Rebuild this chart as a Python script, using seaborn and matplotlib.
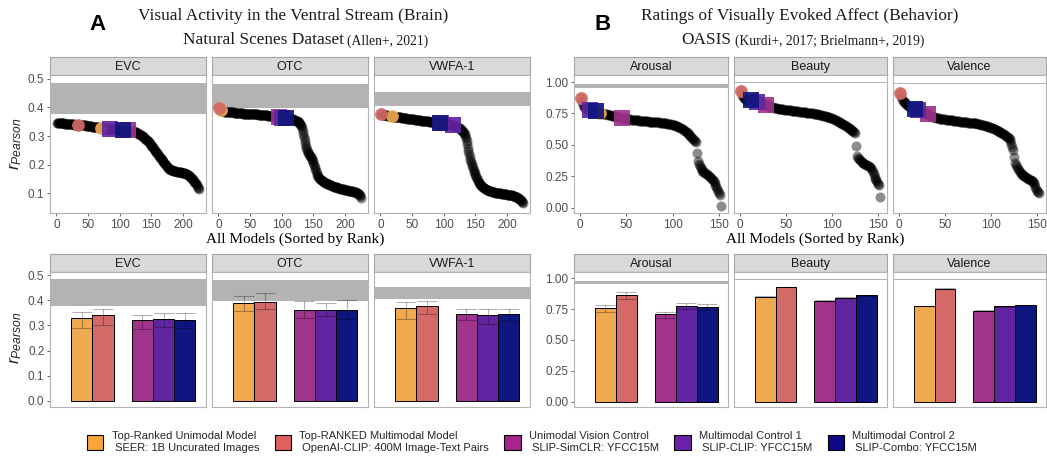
import numpy as np
import matplotlib
matplotlib.use("Agg")  # headless
import matplotlib.pyplot as plt
from matplotlib.patches import Patch
from matplotlib.ticker import FormatStrFormatter
import seaborn as sns

# ── Models (order: SEER, OpenAI-CLIP, SLIP-SimCLR, SLIP-CLIP, SLIP-Combo) ──
LEGEND_LABELS = [
    "Top-Ranked Unimodal Model\n SEER: 1B Uncurated Images",
    "Top-RANKED Multimodal Model\n OpenAI-CLIP: 400M Image-Text Pairs",
    "Unimodal Vision Control\n SLIP-SimCLR: YFCC15M",
    "Multimodal Control 1\n SLIP-CLIP: YFCC15M",
    "Multimodal Control 2\n SLIP-Combo: YFCC15M",
]
BAR_COLORS = ["#EFA94F", "#D46A67", "#A0338B", "#6125A1", "#10167F"]
KEY_COLORS = ["#F9A53A", "#E0605E", "#A7238D", "#6A23A8", "#0D0887"]
MARKERS = ["o", "o", "s", "s", "s"]

BRAIN_REGIONS = ["EVC", "OTC", "VWFA-1"]
AFFECT_DIMS = ["Arousal", "Beauty", "Valence"]

# ── Sorted model scores (r_Pearson) per panel ────────────────────────────
EVC_SCORES = [
    0.347, 0.347, 0.346, 0.346, 0.346, 0.345, 0.345, 0.345, 0.344, 0.344, 0.344, 0.344, 0.343, 0.343, 0.343,
    0.343, 0.342, 0.342, 0.342, 0.342, 0.342, 0.341, 0.341, 0.341, 0.341, 0.341, 0.341, 0.340, 0.340, 0.340,
    0.340, 0.340, 0.340, 0.340, 0.339, 0.339, 0.339, 0.339, 0.338, 0.338, 0.338, 0.338, 0.337, 0.337, 0.337,
    0.337, 0.336, 0.336, 0.336, 0.336, 0.335, 0.335, 0.334, 0.334, 0.334, 0.333, 0.333, 0.333, 0.332, 0.332,
    0.332, 0.331, 0.331, 0.331, 0.330, 0.330, 0.330, 0.329, 0.329, 0.329, 0.328, 0.328, 0.328, 0.327, 0.327,
    0.327, 0.327, 0.326, 0.326, 0.326, 0.326, 0.325, 0.325, 0.325, 0.325, 0.325, 0.324, 0.324, 0.324, 0.324,
    0.324, 0.323, 0.323, 0.323, 0.323, 0.323, 0.323, 0.322, 0.322, 0.322, 0.322, 0.322, 0.322, 0.322, 0.321,
    0.321, 0.321, 0.321, 0.321, 0.320, 0.320, 0.320, 0.320, 0.319, 0.319, 0.319, 0.318, 0.318, 0.317, 0.317,
    0.317, 0.316, 0.315, 0.314, 0.313, 0.312, 0.311, 0.310, 0.309, 0.307, 0.306, 0.305, 0.303, 0.302, 0.300,
    0.299, 0.297, 0.295, 0.293, 0.291, 0.289, 0.287, 0.285, 0.283, 0.281, 0.279, 0.276, 0.273, 0.270, 0.267,
    0.264, 0.261, 0.258, 0.255, 0.252, 0.249, 0.246, 0.243, 0.240, 0.237, 0.234, 0.231, 0.228, 0.225, 0.222,
    0.219, 0.216, 0.213, 0.210, 0.207, 0.204, 0.201, 0.198, 0.195, 0.192, 0.190, 0.188, 0.186, 0.184, 0.183,
    0.182, 0.181, 0.180, 0.179, 0.179, 0.178, 0.178, 0.177, 0.177, 0.176, 0.176, 0.176, 0.175, 0.175, 0.175,
    0.174, 0.174, 0.173, 0.173, 0.172, 0.172, 0.171, 0.170, 0.169, 0.168, 0.167, 0.166, 0.165, 0.163, 0.161,
    0.159, 0.157, 0.155, 0.152, 0.150, 0.147, 0.144, 0.141, 0.138, 0.135, 0.132, 0.128, 0.124, 0.120, 0.116,
]
OTC_SCORES = [
    0.397, 0.393, 0.391, 0.389, 0.388, 0.387, 0.387, 0.386, 0.386, 0.385, 0.385, 0.385, 0.384, 0.384, 0.384,
    0.384, 0.383, 0.383, 0.383, 0.383, 0.382, 0.382, 0.382, 0.382, 0.381, 0.381, 0.381, 0.381, 0.380, 0.380,
    0.380, 0.380, 0.380, 0.379, 0.379, 0.379, 0.379, 0.379, 0.378, 0.378, 0.378, 0.378, 0.378, 0.378, 0.377,
    0.377, 0.377, 0.377, 0.377, 0.377, 0.376, 0.376, 0.376, 0.376, 0.376, 0.376, 0.375, 0.375, 0.375, 0.375,
    0.375, 0.375, 0.374, 0.374, 0.374, 0.374, 0.374, 0.373, 0.373, 0.373, 0.373, 0.373, 0.372, 0.372, 0.372,
    0.372, 0.372, 0.371, 0.371, 0.371, 0.371, 0.370, 0.370, 0.370, 0.369, 0.369, 0.369, 0.368, 0.368, 0.367,
    0.367, 0.367, 0.366, 0.366, 0.366, 0.365, 0.365, 0.365, 0.364, 0.364, 0.364, 0.363, 0.363, 0.363, 0.362,
    0.362, 0.362, 0.362, 0.361, 0.361, 0.361, 0.360, 0.360, 0.360, 0.359, 0.359, 0.358, 0.358, 0.357, 0.356,
    0.355, 0.354, 0.353, 0.352, 0.351, 0.350, 0.348, 0.346, 0.343, 0.339, 0.334, 0.327, 0.318, 0.307, 0.296,
    0.285, 0.275, 0.266, 0.258, 0.251, 0.245, 0.240, 0.236, 0.232, 0.229, 0.226, 0.222, 0.218, 0.213, 0.207,
    0.200, 0.192, 0.184, 0.177, 0.171, 0.166, 0.162, 0.158, 0.155, 0.152, 0.150, 0.148, 0.146, 0.144, 0.142,
    0.141, 0.139, 0.138, 0.137, 0.136, 0.135, 0.134, 0.133, 0.132, 0.131, 0.130, 0.129, 0.128, 0.127, 0.126,
    0.125, 0.124, 0.124, 0.123, 0.122, 0.121, 0.121, 0.120, 0.119, 0.118, 0.118, 0.117, 0.116, 0.116, 0.115,
    0.115, 0.114, 0.114, 0.113, 0.113, 0.112, 0.112, 0.111, 0.111, 0.110, 0.110, 0.109, 0.109, 0.108, 0.108,
    0.107, 0.107, 0.106, 0.106, 0.105, 0.104, 0.104, 0.103, 0.102, 0.101, 0.099, 0.097, 0.094, 0.090, 0.085,
]
VWFA_SCORES = [
    0.378, 0.376, 0.375, 0.374, 0.374, 0.373, 0.373, 0.372, 0.372, 0.372, 0.371, 0.371, 0.371, 0.370, 0.370,
    0.370, 0.370, 0.369, 0.369, 0.369, 0.368, 0.368, 0.368, 0.367, 0.367, 0.367, 0.366, 0.366, 0.366, 0.365,
    0.365, 0.365, 0.364, 0.364, 0.364, 0.363, 0.363, 0.363, 0.362, 0.362, 0.362, 0.361, 0.361, 0.361, 0.360,
    0.360, 0.360, 0.359, 0.359, 0.359, 0.358, 0.358, 0.358, 0.357, 0.357, 0.357, 0.356, 0.356, 0.356, 0.355,
    0.355, 0.355, 0.355, 0.354, 0.354, 0.354, 0.353, 0.353, 0.353, 0.352, 0.352, 0.352, 0.351, 0.351, 0.351,
    0.351, 0.350, 0.350, 0.350, 0.349, 0.349, 0.349, 0.349, 0.348, 0.348, 0.348, 0.348, 0.347, 0.347, 0.347,
    0.347, 0.346, 0.346, 0.346, 0.345, 0.345, 0.345, 0.344, 0.344, 0.344, 0.343, 0.343, 0.343, 0.342, 0.342,
    0.342, 0.341, 0.341, 0.341, 0.340, 0.340, 0.339, 0.339, 0.338, 0.337, 0.336, 0.335, 0.334, 0.333, 0.332,
    0.331, 0.330, 0.329, 0.328, 0.327, 0.325, 0.323, 0.321, 0.319, 0.317, 0.314, 0.311, 0.307, 0.301, 0.293,
    0.283, 0.272, 0.260, 0.248, 0.236, 0.226, 0.218, 0.210, 0.203, 0.196, 0.189, 0.182, 0.176, 0.170, 0.164,
    0.159, 0.154, 0.149, 0.145, 0.141, 0.137, 0.134, 0.131, 0.128, 0.126, 0.124, 0.122, 0.120, 0.118, 0.117,
    0.115, 0.114, 0.113, 0.112, 0.111, 0.110, 0.109, 0.108, 0.107, 0.107, 0.106, 0.105, 0.105, 0.104, 0.104,
    0.103, 0.103, 0.102, 0.102, 0.101, 0.101, 0.101, 0.100, 0.100, 0.100, 0.099, 0.099, 0.099, 0.098, 0.098,
    0.098, 0.097, 0.097, 0.097, 0.096, 0.096, 0.096, 0.095, 0.095, 0.094, 0.094, 0.093, 0.093, 0.092, 0.092,
    0.091, 0.090, 0.089, 0.088, 0.087, 0.086, 0.085, 0.083, 0.082, 0.080, 0.078, 0.076, 0.073, 0.070, 0.067,
]
AROUSAL_SCORES = [
    0.870, 0.840, 0.820, 0.805, 0.795, 0.790, 0.786, 0.783, 0.780, 0.778, 0.776, 0.774, 0.772, 0.770, 0.769,
    0.768, 0.766, 0.764, 0.762, 0.760, 0.757, 0.755, 0.753, 0.751, 0.749, 0.747, 0.745, 0.743, 0.742, 0.740,
    0.738, 0.737, 0.735, 0.733, 0.731, 0.730, 0.728, 0.727, 0.725, 0.724, 0.722, 0.720, 0.719, 0.717, 0.715,
    0.714, 0.712, 0.711, 0.709, 0.708, 0.706, 0.705, 0.703, 0.702, 0.701, 0.700, 0.699, 0.698, 0.697, 0.696,
    0.695, 0.695, 0.694, 0.693, 0.692, 0.692, 0.691, 0.690, 0.690, 0.689, 0.688, 0.688, 0.687, 0.686, 0.686,
    0.685, 0.684, 0.684, 0.683, 0.682, 0.682, 0.681, 0.680, 0.680, 0.679, 0.678, 0.677, 0.676, 0.675, 0.674,
    0.673, 0.672, 0.671, 0.670, 0.668, 0.667, 0.665, 0.664, 0.662, 0.660, 0.658, 0.656, 0.653, 0.650, 0.647,
    0.644, 0.640, 0.636, 0.632, 0.628, 0.623, 0.618, 0.612, 0.606, 0.600, 0.593, 0.586, 0.578, 0.570, 0.561,
    0.552, 0.544, 0.537, 0.530, 0.522, 0.432, 0.372, 0.350, 0.332, 0.318, 0.305, 0.296, 0.288, 0.282, 0.276,
    0.270, 0.265, 0.260, 0.254, 0.248, 0.240, 0.232, 0.222, 0.211, 0.198, 0.184, 0.168, 0.152, 0.136, 0.120,
    0.104, 0.010,
]
BEAUTY_SCORES = [
    0.928, 0.900, 0.882, 0.872, 0.866, 0.862, 0.860, 0.858, 0.857, 0.856, 0.855, 0.854, 0.852, 0.850, 0.848,
    0.846, 0.844, 0.842, 0.840, 0.838, 0.836, 0.834, 0.832, 0.830, 0.828, 0.826, 0.824, 0.821, 0.818, 0.815,
    0.812, 0.809, 0.806, 0.803, 0.800, 0.798, 0.796, 0.794, 0.792, 0.790, 0.789, 0.787, 0.786, 0.785, 0.784,
    0.783, 0.782, 0.781, 0.780, 0.779, 0.778, 0.777, 0.776, 0.775, 0.774, 0.773, 0.772, 0.771, 0.770, 0.769,
    0.768, 0.767, 0.766, 0.765, 0.764, 0.763, 0.762, 0.761, 0.760, 0.759, 0.758, 0.757, 0.756, 0.755, 0.754,
    0.753, 0.752, 0.751, 0.750, 0.749, 0.747, 0.746, 0.745, 0.743, 0.742, 0.740, 0.738, 0.736, 0.734, 0.732,
    0.730, 0.728, 0.726, 0.724, 0.722, 0.720, 0.718, 0.716, 0.714, 0.711, 0.708, 0.704, 0.700, 0.696, 0.692,
    0.688, 0.684, 0.680, 0.676, 0.672, 0.668, 0.664, 0.660, 0.655, 0.650, 0.645, 0.640, 0.635, 0.629, 0.623,
    0.617, 0.612, 0.607, 0.603, 0.598, 0.488, 0.410, 0.395, 0.385, 0.377, 0.370, 0.364, 0.359, 0.354, 0.349,
    0.345, 0.341, 0.337, 0.333, 0.330, 0.325, 0.315, 0.300, 0.285, 0.265, 0.248, 0.232, 0.218, 0.205, 0.190,
    0.180, 0.083,
]
VALENCE_SCORES = [
    0.915, 0.885, 0.866, 0.852, 0.845, 0.838, 0.830, 0.824, 0.818, 0.812, 0.807, 0.802, 0.798, 0.795, 0.792,
    0.789, 0.787, 0.784, 0.781, 0.778, 0.775, 0.772, 0.769, 0.766, 0.763, 0.760, 0.757, 0.754, 0.750, 0.746,
    0.742, 0.738, 0.734, 0.731, 0.728, 0.725, 0.722, 0.720, 0.718, 0.716, 0.714, 0.712, 0.710, 0.709, 0.707,
    0.706, 0.705, 0.704, 0.703, 0.702, 0.701, 0.700, 0.699, 0.698, 0.697, 0.696, 0.695, 0.694, 0.693, 0.692,
    0.691, 0.690, 0.689, 0.688, 0.687, 0.686, 0.685, 0.684, 0.684, 0.683, 0.682, 0.681, 0.680, 0.679, 0.678,
    0.678, 0.677, 0.676, 0.676, 0.675, 0.674, 0.673, 0.672, 0.671, 0.670, 0.668, 0.666, 0.664, 0.662, 0.660,
    0.658, 0.656, 0.654, 0.652, 0.650, 0.648, 0.646, 0.644, 0.641, 0.638, 0.635, 0.632, 0.629, 0.626, 0.622,
    0.618, 0.614, 0.610, 0.606, 0.602, 0.598, 0.593, 0.588, 0.583, 0.578, 0.572, 0.566, 0.560, 0.553, 0.545,
    0.530, 0.510, 0.480, 0.460, 0.400, 0.355, 0.340, 0.325, 0.310, 0.298, 0.288, 0.280, 0.272, 0.264, 0.257,
    0.251, 0.246, 0.241, 0.236, 0.232, 0.228, 0.224, 0.220, 0.216, 0.210, 0.200, 0.185, 0.168, 0.150, 0.135,
    0.125, 0.115,
]

# rank of each highlighted model within the sorted list
EVC_RANKS = [71, 34, 113, 85, 105]
OTC_RANKS = [4, 1, 95, 100, 107]
VWFA_RANKS = [19, 1, 96, 114, 94]
AROUSAL_RANKS = [21, 1, 45, 11, 17]
BEAUTY_RANKS = [14, 1, 28, 18, 12]
VALENCE_RANKS = [19, 1, 31, 21, 17]

# ── Bar chart values (mean score with interval) ───────────────────────────
EVC_MEAN = [0.329, 0.340, 0.321, 0.326, 0.321]
EVC_LO = [0.289, 0.300, 0.287, 0.293, 0.288]
EVC_HI = [0.352, 0.366, 0.342, 0.349, 0.349]
OTC_MEAN = [0.388, 0.394, 0.362, 0.362, 0.362]
OTC_LO = [0.359, 0.365, 0.329, 0.338, 0.324]
OTC_HI = [0.418, 0.427, 0.398, 0.389, 0.399]
VWFA_MEAN = [0.368, 0.378, 0.345, 0.340, 0.345]
VWFA_LO = [0.324, 0.344, 0.320, 0.305, 0.318]
VWFA_HI = [0.392, 0.398, 0.365, 0.365, 0.365]
AROUSAL_MEAN = [0.757, 0.865, 0.708, 0.778, 0.770]
AROUSAL_LO = [0.730, 0.830, 0.680, 0.750, 0.740]
AROUSAL_HI = [0.780, 0.890, 0.730, 0.800, 0.790]
BEAUTY_MEAN = [0.851, 0.930, 0.819, 0.843, 0.862]
BEAUTY_LO = [0.848, 0.927, 0.816, 0.840, 0.859]
BEAUTY_HI = [0.854, 0.933, 0.822, 0.846, 0.865]
VALENCE_MEAN = [0.776, 0.916, 0.738, 0.773, 0.784]
VALENCE_LO = [0.773, 0.913, 0.735, 0.770, 0.781]
VALENCE_HI = [0.779, 0.919, 0.741, 0.776, 0.787]

# noise ceiling bands (low, high)
BRAIN_NC_LOW = [0.376, 0.397, 0.405]
BRAIN_NC_HIGH = [0.486, 0.480, 0.453]
AFFECT_NC_LOW = [0.952, 0.990, 0.988]
AFFECT_NC_HIGH = [0.982, 0.998, 0.996]

# ── Layout (pixels) ───────────────────────────────────────────────────────
W, H = 1047, 458
LEFT_X = [(50, 206), (212, 368), (374, 530)]
RIGHT_X = [(574, 728), (734, 887), (893, 1046)]
TOP_STRIP, TOP_PANEL = (57, 75), (75, 213)
BOT_STRIP, BOT_PANEL = (254, 272), (272, 407)
BAR_POS = [0, 1, 2.85, 3.85, 4.85]

sns.set_theme(style="white")
plt.rcParams["font.family"] = ["Liberation Sans", "DejaVu Sans"]
plt.rcParams["mathtext.fontset"] = "custom"
plt.rcParams["mathtext.it"] = "Liberation Sans:italic"
plt.rcParams["mathtext.rm"] = "Liberation Sans"

fig = plt.figure(figsize=(W / 100, H / 100), dpi=100)


def px_axes(x0, y0, x1, y1):
    return fig.add_axes([x0 / W, 1 - y1 / H, (x1 - x0) / W, (y1 - y0) / H])


def add_strip(xs, ys, label):
    ax = px_axes(xs[0], ys[0], xs[1], ys[1])
    ax.set_facecolor("#D9D9D9")
    ax.set_xticks([])
    ax.set_yticks([])
    for sp in ax.spines.values():
        sp.set_color("#A6A6A6")
        sp.set_linewidth(0.8)
    ax.spines["bottom"].set_color("#595959")
    ax.text(0.5, 0.45, label, ha="center", va="center", fontsize=9,
            color="#1A1A1A", transform=ax.transAxes)


def style_panel(ax, show_y):
    for sp in ax.spines.values():
        sp.set_color("#B3B3B3")
        sp.set_linewidth(0.8)
    ax.tick_params(length=2.5, width=0.6, color="#4D4D4D", labelcolor="#4D4D4D",
                   labelsize=8.5, pad=1.5, left=True, bottom=True)
    if not show_y:
        ax.tick_params(axis="y", left=False, labelleft=False)
    ax.set_xlabel("")
    ax.set_ylabel("")


def rank_panel(ax, scores, hl_ranks, nc_lo, nc_hi):
    ranks = np.arange(1, len(scores) + 1)
    ax.axhspan(nc_lo, nc_hi, color="#B3B3B3", lw=0, zorder=0)
    sns.scatterplot(x=ranks, y=scores, ax=ax, color="black", alpha=0.45, s=52,
                    linewidth=0, legend=False, zorder=2)
    for color, marker, r in zip(BAR_COLORS, MARKERS, hl_ranks):
        size = 85 if marker == "o" else 130
        ax.scatter([r], [scores[r - 1]], s=size, marker=marker, color=color,
                   alpha=0.92, linewidth=0, zorder=3)
    pad = 0.05 * (len(scores) - 1)
    ax.set_xlim(1 - pad, len(scores) + pad)


def bar_panel(ax, means, lo, hi, nc_lo, nc_hi):
    means = np.array(means)
    ax.axhspan(nc_lo, nc_hi, color="#B3B3B3", lw=0, zorder=0)
    ax.bar(BAR_POS, means, width=1.0, color=BAR_COLORS, edgecolor="black",
           linewidth=0.7, zorder=2)
    ax.errorbar(BAR_POS, means, yerr=[means - np.array(lo), np.array(hi) - means],
                fmt="none", ecolor=(0, 0, 0, 0.3), elinewidth=0.8, capsize=7.5,
                capthick=0.8, zorder=3)
    ax.set_xlim(-1.5, 5.85)
    ax.set_xticks([])


brain_scores = [EVC_SCORES, OTC_SCORES, VWFA_SCORES]
brain_ranks = [EVC_RANKS, OTC_RANKS, VWFA_RANKS]
brain_bars = [(EVC_MEAN, EVC_LO, EVC_HI), (OTC_MEAN, OTC_LO, OTC_HI),
              (VWFA_MEAN, VWFA_LO, VWFA_HI)]
affect_scores = [AROUSAL_SCORES, BEAUTY_SCORES, VALENCE_SCORES]
affect_ranks = [AROUSAL_RANKS, BEAUTY_RANKS, VALENCE_RANKS]
affect_bars = [(AROUSAL_MEAN, AROUSAL_LO, AROUSAL_HI), (BEAUTY_MEAN, BEAUTY_LO, BEAUTY_HI),
               (VALENCE_MEAN, VALENCE_LO, VALENCE_HI)]

# ── A: brain ──────────────────────────────────────────────────────────────
for i, (xs, name) in enumerate(zip(LEFT_X, BRAIN_REGIONS)):
    add_strip(xs, TOP_STRIP, name)
    ax = px_axes(xs[0], TOP_PANEL[0], xs[1], TOP_PANEL[1])
    rank_panel(ax, brain_scores[i], brain_ranks[i], BRAIN_NC_LOW[i], BRAIN_NC_HIGH[i])
    ax.set_ylim(0.032, 0.5125)
    ax.set_yticks([0.1, 0.2, 0.3, 0.4, 0.5])
    ax.yaxis.set_major_formatter(FormatStrFormatter("%.1f"))
    ax.set_xticks([0, 50, 100, 150, 200])
    style_panel(ax, i == 0)

    add_strip(xs, BOT_STRIP, name)
    ax = px_axes(xs[0], BOT_PANEL[0], xs[1], BOT_PANEL[1])
    bar_panel(ax, *brain_bars[i], BRAIN_NC_LOW[i], BRAIN_NC_HIGH[i])
    ax.set_ylim(-0.024, 0.512)
    ax.set_yticks([0.0, 0.1, 0.2, 0.3, 0.4, 0.5])
    ax.yaxis.set_major_formatter(FormatStrFormatter("%.1f"))
    style_panel(ax, i == 0)
    ax.tick_params(axis="x", bottom=False)

# ── B: behaviour ──────────────────────────────────────────────────────────
for i, (xs, name) in enumerate(zip(RIGHT_X, AFFECT_DIMS)):
    add_strip(xs, TOP_STRIP, name)
    ax = px_axes(xs[0], TOP_PANEL[0], xs[1], TOP_PANEL[1])
    rank_panel(ax, affect_scores[i], affect_ranks[i], AFFECT_NC_LOW[i], AFFECT_NC_HIGH[i])
    ax.set_ylim(-0.042, 1.056)
    ax.set_yticks([0, 0.25, 0.5, 0.75, 1.0])
    ax.yaxis.set_major_formatter(FormatStrFormatter("%.2f"))
    ax.set_xticks([0, 50, 100, 150])
    style_panel(ax, i == 0)

    add_strip(xs, BOT_STRIP, name)
    ax = px_axes(xs[0], BOT_PANEL[0], xs[1], BOT_PANEL[1])
    bar_panel(ax, *affect_bars[i], AFFECT_NC_LOW[i], AFFECT_NC_HIGH[i])
    ax.set_ylim(-0.043, 1.051)
    ax.set_yticks([0, 0.25, 0.5, 0.75, 1.0])
    ax.yaxis.set_major_formatter(FormatStrFormatter("%.2f"))
    style_panel(ax, i == 0)
    ax.tick_params(axis="x", bottom=False)

# ── Titles and labels ─────────────────────────────────────────────────────
serif = ["Liberation Serif", "DejaVu Serif"]


def ftext(x, y, s, **kw):
    fig.text(x / W, 1 - y / H, s, **kw)


ftext(97, 25, "A", fontsize=16, fontweight="bold", ha="center", va="center", color="black")
ftext(603, 25, "B", fontsize=16, fontweight="bold", ha="center", va="center", color="black")
ftext(293, 16, "Visual Activity in the Ventral Stream (Brain)", family=serif,
      fontsize=12.4, ha="center", va="center", color="#1A1A1A")
ftext(344, 40, "Natural Scenes Dataset", family=serif, fontsize=12.4,
      ha="right", va="center", color="#1A1A1A")
ftext(347, 41, "(Allen+, 2021)", family=serif, fontsize=9.8,
      ha="left", va="center", color="#1A1A1A")
ftext(800, 16, "Ratings of Visually Evoked Affect (Behavior)", family=serif,
      fontsize=12.4, ha="center", va="center", color="#1A1A1A")
ftext(731, 40, "OASIS", family=serif, fontsize=12.4, ha="right", va="center", color="#1A1A1A")
ftext(735, 41, "(Kurdi+, 2017; Brielmann+, 2019)", family=serif, fontsize=9.8,
      ha="left", va="center", color="#1A1A1A")
ftext(295, 239, "All Models (Sorted by Rank)", family=serif, fontsize=11,
      ha="center", va="center", color="black")
ftext(815, 239, "All Models (Sorted by Rank)", family=serif, fontsize=11,
      ha="center", va="center", color="black")
ftext(16, 144, r"$r_{Pearson}$", fontsize=12.5, rotation=90, ha="center", va="center")
ftext(16, 338, r"$r_{Pearson}$", fontsize=12.5, rotation=90, ha="center", va="center")

# ── Legend ────────────────────────────────────────────────────────────────
handles = [Patch(facecolor=c, edgecolor="black", linewidth=0.8) for c in KEY_COLORS]
fig.legend(handles, LEGEND_LABELS, loc="center", ncol=5, frameon=False,
           bbox_to_anchor=(532 / W, 1 - 442 / H), fontsize=8,
           handlelength=1.45, handleheight=1.8, handletextpad=0.75,
           columnspacing=1.4, labelspacing=0.2)

fig.savefig("out.png", dpi=100)
